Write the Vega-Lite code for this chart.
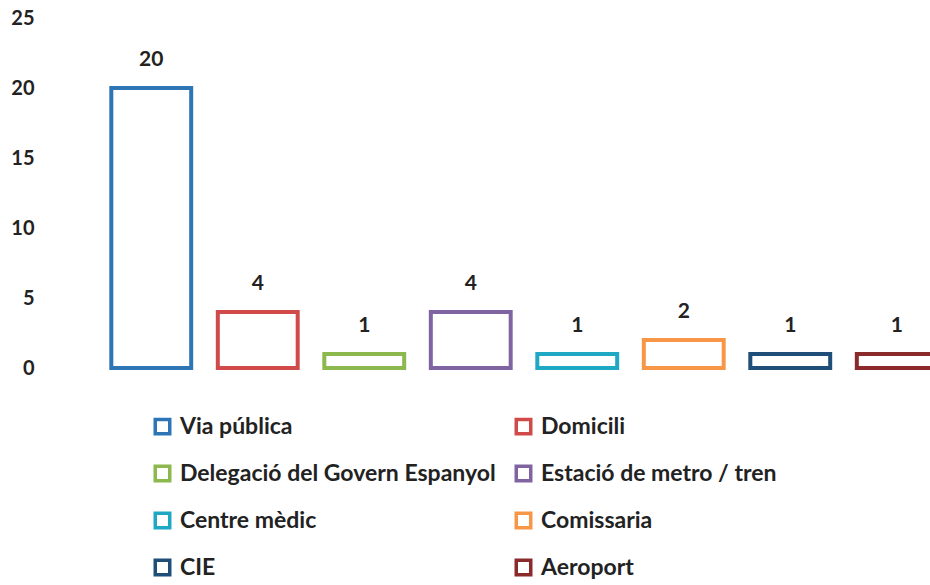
{
  "$schema": "https://vega.github.io/schema/vega-lite/v6.json",
  "autosize": {"type": "none"},
  "width": 852,
  "height": 350,
  "padding": {"left": 98, "top": 18, "right": 0, "bottom": 217},
  "background": "white",
  "config": {"view": {"stroke": null}, "font": "Lato"},
  "data": {
    "values": [
      {"lloc": "Via pública", "n": 20},
      {"lloc": "Domicili", "n": 4},
      {"lloc": "Delegació del Govern Espanyol", "n": 1},
      {"lloc": "Estació de metro / tren", "n": 4},
      {"lloc": "Centre mèdic", "n": 1},
      {"lloc": "Comissaria", "n": 2},
      {"lloc": "CIE", "n": 1},
      {"lloc": "Aeroport", "n": 1}
    ]
  },
  "encoding": {
    "x": {"field": "lloc", "type": "nominal", "sort": null, "axis": null,
          "scale": {"paddingInner": 0.25, "paddingOuter": 0.125}},
    "y": {"field": "n", "type": "quantitative",
          "scale": {"domain": [0, 25]},
          "axis": {"title": null, "values": [0, 5, 10, 15, 20, 25], "domain": false, "ticks": false, "grid": false,
                   "labelPadding": 64, "labelFontSize": 20, "labelFontWeight": "bold", "labelColor": "#222222", "labelFont": "Lato"}}
  },
  "layer": [
    {
      "mark": {"type": "bar", "fill": "white", "strokeWidth": 4, "strokeJoin": "miter"},
      "encoding": {
        "stroke": {"field": "lloc", "type": "nominal", "sort": null,
          "scale": {
            "domain": ["Via pública", "Domicili", "Delegació del Govern Espanyol", "Estació de metro / tren", "Centre mèdic", "Comissaria", "CIE", "Aeroport"],
            "range": ["#2E75B6", "#D04A4A", "#8CB84E", "#8064A2", "#1FA8C4", "#F79646", "#1F4E79", "#8B2A2A"]},
          "legend": {
            "title": null, "orient": "none", "legendX": 53, "legendY": 397,
            "columns": 2, "direction": "horizontal", "columnPadding": 13, "rowPadding": 18,
            "symbolType": "square", "symbolSize": 210, "symbolStrokeWidth": 3.5, "symbolFillColor": "white",
            "labelFontSize": 23, "labelFontWeight": "bold", "labelColor": "#222222", "labelFont": "Lato",
            "labelLimit": 400, "labelOffset": 6
          }
        }
      }
    },
    {
      "mark": {"type": "text", "baseline": "bottom", "dy": -18, "fontSize": 21, "fontWeight": "bold", "color": "#222222", "font": "Lato"},
      "encoding": {"text": {"field": "n", "type": "quantitative"}}
    }
  ]
}
